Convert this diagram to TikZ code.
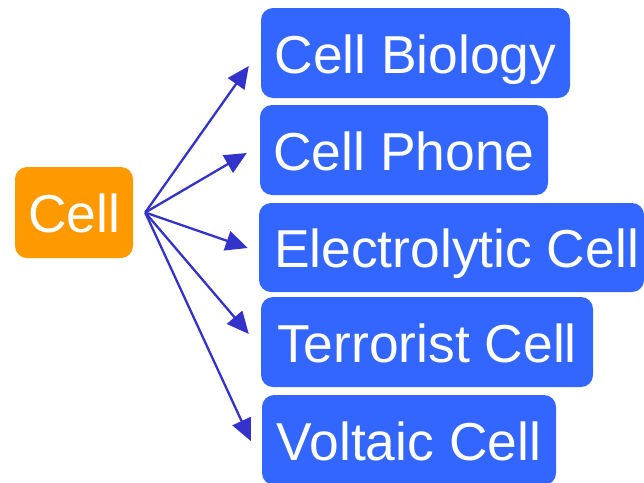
\documentclass[tikz,border=0pt]{standalone}
\usepackage{fontspec}
\setmainfont{Liberation Sans}
\usetikzlibrary{arrows.meta}
\definecolor{boxblue}{HTML}{3366FF}
\definecolor{boxorange}{HTML}{FF9900}
\definecolor{arrowblue}{HTML}{3333CC}
\begin{document}
\begin{tikzpicture}[x=1pt,y=-1pt,
  base/.style={rounded corners=12pt, text=white, inner sep=0pt,
    font=\fontsize{53.4}{60}\selectfont, text height=40pt, text depth=0pt,
    minimum height=90pt, anchor=center},
  topic/.style={base, fill=boxblue},
  root/.style={base, fill=boxorange},
  arr/.style={draw=arrowblue, line width=2.3pt,
    -{Triangle[length=22pt,width=20pt]}}]
\useasboundingbox (0,0) rectangle (644,482);
\begin{scope}
\clip (0,0) rectangle (644,482);
\node[root, minimum width=118pt, minimum height=91pt] (cell) at (74,212.5) {Cell};
\node[topic, minimum width=309pt] (b1) at (415.5,53) {Cell Biology};
\node[topic, minimum width=288pt] (b2) at (404,150) {Cell Phone};
\node[topic, minimum width=385pt, minimum height=89pt] (b3) at (451.5,247.5) {\kern10pt Electrolytic Cell};
\node[topic, minimum width=332pt] (b4) at (427,342) {Terrorist Cell};
\node[topic, minimum width=294pt] (b5) at (409,440) {Voltaic Cell};
\end{scope}
\coordinate (src) at ([xshift=12pt]cell.east);
\coordinate (t1) at ([xshift=-12pt]b1.west |- 0,66);
\coordinate (t2) at ([xshift=-13pt]b2.west |- 0,153);
\coordinate (t3) at ([xshift=-11pt]b3.west |- 0,248);
\coordinate (t4) at ([xshift=-12pt]b4.west |- 0,334);
\coordinate (t5) at ([xshift=-11pt]b5.west |- 0,441);
\foreach \t in {t1,t2,t3,t4,t5} \draw[arr] (src) -- (\t);
\end{tikzpicture}
\end{document}
